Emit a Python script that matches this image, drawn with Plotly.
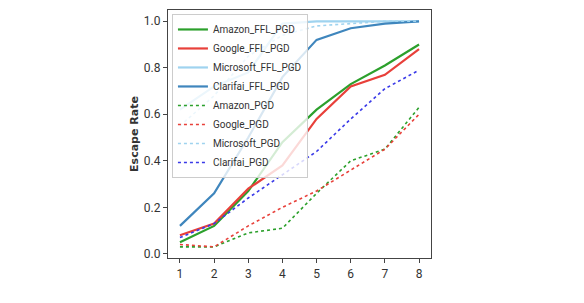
import plotly.graph_objects as go

x_vals = [1, 2, 3, 4, 5, 6, 7, 8]

amazon_ffl = [0.05, 0.12, 0.27, 0.48, 0.62, 0.73, 0.81, 0.90]
google_ffl = [0.08, 0.13, 0.28, 0.38, 0.58, 0.72, 0.77, 0.88]
microsoft_ffl = [0.62, 0.72, 0.78, 0.99, 1.0, 1.0, 1.0, 1.0]
clarifai_ffl = [0.12, 0.26, 0.50, 0.76, 0.92, 0.97, 0.99, 1.0]
amazon_pgd = [0.03, 0.03, 0.09, 0.11, 0.26, 0.40, 0.45, 0.63]
google_pgd = [0.04, 0.03, 0.12, 0.20, 0.27, 0.36, 0.45, 0.60]
microsoft_pgd = [0.55, 0.68, 0.85, 0.94, 0.98, 0.99, 1.0, 1.0]
clarifai_pgd = [0.07, 0.13, 0.24, 0.34, 0.44, 0.58, 0.71, 0.79]

series = [
    ("Amazon_FFL_PGD", amazon_ffl, "#2ca02c", "solid", 2.2),
    ("Google_FFL_PGD", google_ffl, "#e8403a", "solid", 2.2),
    ("Microsoft_FFL_PGD", microsoft_ffl, "#9fd3ef", "solid", 2.2),
    ("Clarifai_FFL_PGD", clarifai_ffl, "#3f86bd", "solid", 2.2),
    ("Amazon_PGD", amazon_pgd, "#2ca02c", "dot", 1.6),
    ("Google_PGD", google_pgd, "#e8403a", "dot", 1.6),
    ("Microsoft_PGD", microsoft_pgd, "#9fd3ef", "dot", 1.6),
    ("Clarifai_PGD", clarifai_pgd, "#3a3ae8", "dot", 1.6),
]

FONT = "Roboto, sans-serif"

fig = go.Figure()
for name, ys, color, dash, w in series:
    fig.add_trace(go.Scatter(x=x_vals, y=ys, mode="lines", name=name,
                             line=dict(color=color, dash=dash, width=w)))

axis_common = dict(showline=True, linecolor="#444444", linewidth=1.2, mirror=True,
                   showgrid=False, zeroline=False, ticks="outside", ticklen=4,
                   tickcolor="#444444", tickfont=dict(family=FONT, size=12, color="#333333"))

fig.update_layout(
    width=584, height=303,
    margin=dict(l=168, r=153, t=10, b=45),
    paper_bgcolor="white", plot_bgcolor="white",
    xaxis=dict(range=[0.65, 8.35], tickvals=x_vals, **axis_common),
    yaxis=dict(range=[-0.018, 1.0485], tickvals=[0.0, 0.2, 0.4, 0.6, 0.8, 1.0],
               tickformat=".1f",
               title=dict(text="<b>Escape Rate</b>", font=dict(family="DejaVu Sans", size=11, color="#333333"),
                          standoff=2),
               **axis_common),
    legend=dict(x=0.015, y=0.984, xanchor="left", yanchor="top",
                bgcolor="rgba(255,255,255,0.8)", bordercolor="#cccccc", borderwidth=1,
                font=dict(family=FONT, size=10, color="#333333"),
                itemwidth=30, tracegroupgap=0),
    showlegend=True,
)

fig.write_html("out.html")
